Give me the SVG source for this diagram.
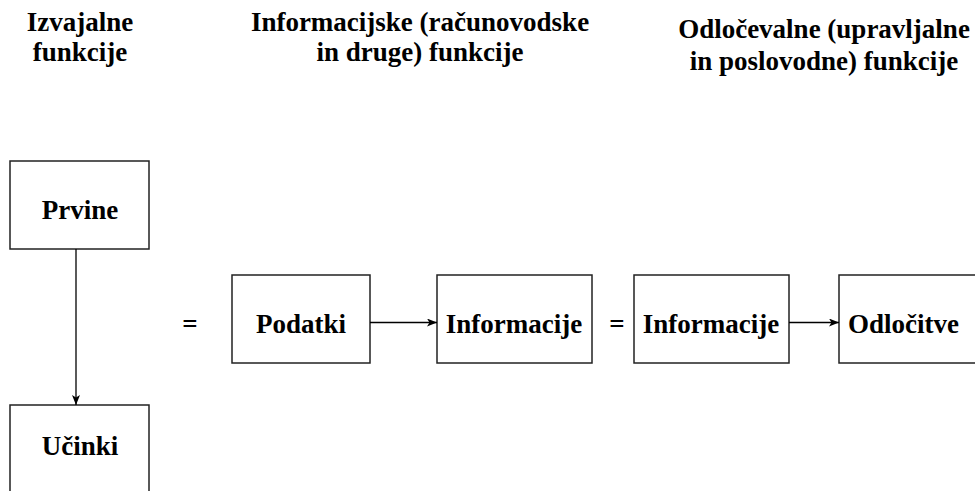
<svg xmlns="http://www.w3.org/2000/svg" width="975" height="491" viewBox="0 0 975 491">
  <style>
    .box { fill: #ffffff; stroke: #222222; stroke-width: 1.5; }
    .lbl { font-family: "Liberation Serif", "Times New Roman", serif; font-weight: bold; font-size: 27px; fill: #000000; text-anchor: middle; }
    .start { text-anchor: start; }
    .edge { stroke: #000000; stroke-width: 1.3; fill: none; marker-end: url(#arrow); }
  </style>
  <defs>
    <marker id="arrow" viewBox="0 0 10 8" refX="10" refY="4" markerWidth="10" markerHeight="8" markerUnits="userSpaceOnUse" orient="auto">
      <path d="M0,0 L10,4 L0,8 L2.5,4 Z" fill="#000000"/>
    </marker>
  </defs>
  <rect width="975" height="491" fill="#ffffff"/>

  <!-- column headings -->
  <g id="heading-izvajalne">
    <text class="lbl" x="80" y="31">Izvajalne</text>
    <text class="lbl" x="80" y="61">funkcije</text>
  </g>
  <g id="heading-informacijske">
    <text class="lbl" x="420" y="31">Informacijske (računovodske</text>
    <text class="lbl" x="420" y="61">in druge) funkcije</text>
  </g>
  <g id="heading-odlocevalne">
    <text class="lbl" x="824" y="38">Odločevalne (upravljalne</text>
    <text class="lbl" x="824" y="70">in poslovodne) funkcije</text>
  </g>

  <!-- nodes -->
  <g id="prvine">
    <rect class="box" x="10" y="161" width="139" height="88"/>
    <text class="lbl" x="80" y="219">Prvine</text>
  </g>
  <g id="ucinki">
    <rect class="box" x="10" y="405" width="139" height="100"/>
    <text class="lbl" x="80" y="455">Učinki</text>
  </g>
  <g id="eq1">
    <text class="lbl" x="190" y="333">=</text>
  </g>
  <g id="podatki">
    <rect class="box" x="232" y="275" width="138" height="88"/>
    <text class="lbl" x="301" y="333">Podatki</text>
  </g>
  <g id="informacije-1">
    <rect class="box" x="437" y="275" width="155" height="88"/>
    <text class="lbl" x="514" y="333">Informacije</text>
  </g>
  <g id="eq2">
    <text class="lbl" x="617" y="333">=</text>
  </g>
  <g id="informacije-2">
    <rect class="box" x="634" y="275" width="155" height="88"/>
    <text class="lbl" x="711" y="333">Informacije</text>
  </g>
  <g id="odlocitve">
    <rect class="box" x="839" y="275" width="160" height="88"/>
    <text class="lbl start" x="848" y="333">Odločitve</text>
  </g>

  <!-- connectors -->
  <g id="connectors">
    <line class="edge" x1="76" y1="249" x2="76" y2="405"/>
    <line class="edge" x1="370" y1="322.5" x2="437" y2="322.5"/>
    <line class="edge" x1="789" y1="322.5" x2="839" y2="322.5"/>
  </g>
</svg>
